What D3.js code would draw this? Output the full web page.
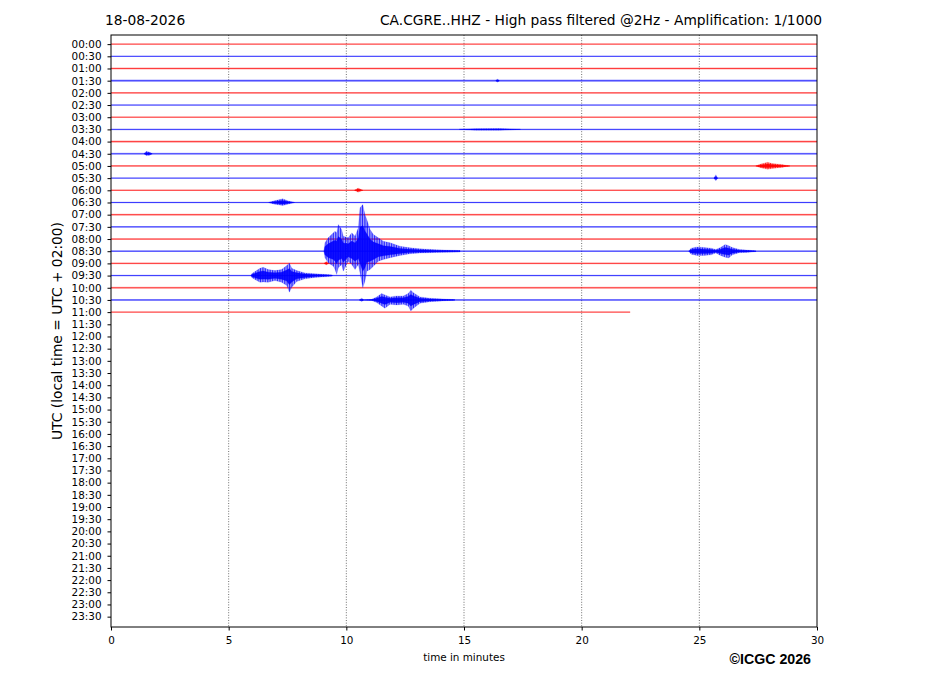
<!DOCTYPE html>
<html>
<head>
<meta charset="utf-8">
<script src="https://cdn.jsdelivr.net/npm/d3@7"></script>
<style>
  body { margin: 0; background: #fff; }
  svg { display: block; font-family: "DejaVu Sans", sans-serif; }
</style>
</head>
<body>
<div id="chart"></div>
<script>
const rowLabels = [
  "00:00", "00:30", "01:00", "01:30", "02:00", "02:30", "03:00", "03:30",
  "04:00", "04:30", "05:00", "05:30", "06:00", "06:30", "07:00", "07:30",
  "08:00", "08:30", "09:00", "09:30", "10:00", "10:30", "11:00", "11:30",
  "12:00", "12:30", "13:00", "13:30", "14:00", "14:30", "15:00", "15:30",
  "16:00", "16:30", "17:00", "17:30", "18:00", "18:30", "19:00", "19:30",
  "20:00", "20:30", "21:00", "21:30", "22:00", "22:30", "23:00", "23:30"
];
const minuteTicks = [0, 5, 10, 15, 20, 25, 30];
const traceColors = ["#ff0000", "#0000ff"];

// background noise level of each recorded half hour (in trace spacings)
const noiseLevel = [
  0.05, 0.05, 0.09, 0.10, 0.07, 0.05, 0.05, 0.06,
  0.09, 0.08, 0.07, 0.06, 0.06, 0.07, 0.08, 0.07,
  0.07, 0.07, 0.08, 0.06, 0.08, 0.08, 0.06
];
// end of data (minutes) for each recorded row
const traceEnd = [
  30, 30, 30, 30, 30, 30, 30, 30, 30, 30, 30, 30,
  30, 30, 30, 30, 30, 30, 30, 30, 30, 30, 22.06
];

// envelopes: [minute, amplitude up, amplitude down]
const quake1 = [
  [9.05, 0, 0], [9.09, 0.69, 0.54], [9.23, 1.10, 0.95], [9.45, 1.51, 1.23],
  [9.52, 1.64, 1.50], [9.59, 1.50, 1.91], [9.66, 2.19, 1.36], [9.80, 1.78, 1.09],
  [9.87, 1.23, 1.64], [10.08, 1.10, 0.82], [10.23, 1.51, 1.09], [10.37, 1.23, 1.50],
  [10.51, 1.92, 1.09], [10.58, 3.56, 1.77], [10.70, 3.83, 3.00], [10.79, 3.01, 2.46],
  [10.87, 2.60, 1.64], [11.01, 1.78, 1.50], [11.15, 1.37, 1.23], [11.36, 1.10, 0.82],
  [11.57, 0.82, 0.68], [11.86, 0.69, 0.54], [12.28, 0.41, 0.35], [12.71, 0.28, 0.21],
  [13.13, 0.20, 0.15], [13.85, 0.12, 0.10], [14.83, 0.06, 0.06]
];
const quake2 = [
  [5.95, 0, 0], [5.98, 0.15, 0.15], [6.12, 0.33, 0.33], [6.33, 0.60, 0.55],
  [6.47, 0.68, 0.52], [6.68, 0.49, 0.55], [6.97, 0.41, 0.41], [7.25, 0.49, 0.55],
  [7.47, 0.82, 0.82], [7.58, 1.04, 1.37], [7.68, 0.60, 0.96], [7.89, 0.41, 0.49],
  [8.24, 0.22, 0.27], [8.67, 0.15, 0.15], [9.22, 0.08, 0.08], [9.4, 0.04, 0.04]
];
const quake3 = [
  [10.55, 0, 0], [10.65, 0.14, 0.12], [10.75, 0, 0], [11.08, 0.05, 0.05],
  [11.29, 0.25, 0.22], [11.50, 0.52, 0.49], [11.64, 0.41, 0.68], [11.86, 0.25, 0.36],
  [12.14, 0.33, 0.41], [12.42, 0.33, 0.36], [12.63, 0.52, 0.49], [12.74, 0.80, 0.90],
  [12.85, 0.60, 0.68], [13.13, 0.25, 0.27], [13.56, 0.14, 0.14], [14.27, 0.06, 0.06],
  [14.6, 0.03, 0.03]
];
const quake4 = [
  [24.55, 0, 0], [24.65, 0.25, 0.25], [24.9, 0.35, 0.35], [25.2, 0.3, 0.35],
  [25.5, 0.25, 0.3], [25.7, 0.15, 0.15], [25.9, 0.3, 0.35], [26.1, 0.55, 0.5],
  [26.25, 0.45, 0.55], [26.4, 0.3, 0.3], [26.7, 0.15, 0.12], [27.0, 0.1, 0.1],
  [27.4, 0.03, 0.03]
];
const blip0500 = [[27.4, 0, 0], [27.6, 0.15, 0.15], [27.9, 0.3, 0.28], [28.1, 0.2, 0.2], [28.5, 0.12, 0.12], [28.85, 0, 0]];
const blip0630 = [[6.7, 0, 0], [6.9, 0.12, 0.12], [7.3, 0.3, 0.25], [7.5, 0.15, 0.15], [7.8, 0, 0]];
const blip0430 = [[1.4, 0, 0], [1.5, 0.2, 0.15], [1.65, 0.12, 0.12], [1.75, 0, 0]];
const blip0530 = [[25.62, 0, 0], [25.7, 0.28, 0.22], [25.78, 0, 0]];
const blip0600 = [[10.35, 0, 0], [10.5, 0.18, 0.15], [10.7, 0, 0]];
const blip0130 = [[16.35, 0, 0], [16.42, 0.14, 0.12], [16.5, 0, 0]];
const blip0330 = [[14.8, 0, 0], [15.5, 0.06, 0.06], [16.5, 0.07, 0.07], [17.4, 0, 0]];
const blip0900 = [[9.05, 0, 0], [9.15, 0.15, 0.12], [9.25, 0, 0]];

const events = [
  {row: 17, env: quake1}, {row: 19, env: quake2}, {row: 21, env: quake3},
  {row: 17, env: quake4}, {row: 10, env: blip0500}, {row: 13, env: blip0630},
  {row: 9, env: blip0430}, {row: 11, env: blip0530}, {row: 12, env: blip0600},
  {row: 3, env: blip0130}, {row: 7, env: blip0330}, {row: 18, env: blip0900}
];

const W = 927, H = 696;
const svg = d3.select("#chart").append("svg").attr("width", W).attr("height", H);

const x = d3.scaleLinear().domain([0, 30]).range([111, 817]);
const y = d3.scaleLinear().domain([-0.75, 47.85]).range([35, 627]);
const amp = (a) => y(a) - y(0);

const defs = svg.append("defs");
defs.append("clipPath").attr("id", "plot")
  .append("rect").attr("x", 111).attr("y", 35).attr("width", 706).attr("height", 592);
// vertical streaks to mimic the dense wiggles of the trace
traceColors.forEach((c, i) => {
  const p = defs.append("pattern").attr("id", "wiggle" + i)
    .attr("patternUnits", "userSpaceOnUse").attr("width", 1.7).attr("height", 20);
  p.append("rect").attr("width", 1.7).attr("height", 20).attr("fill", c).attr("fill-opacity", 0.35);
  p.append("rect").attr("width", 0.9).attr("height", 20).attr("fill", c);
});

// vertical grid
svg.append("g").selectAll("line")
  .data(minuteTicks.slice(1, -1))
  .enter().append("line")
  .attr("x1", (d) => x(d)).attr("x2", (d) => x(d))
  .attr("y1", 35).attr("y2", 627)
  .attr("stroke", "#333").attr("stroke-width", 0.7)
  .attr("stroke-dasharray", "1,1.6");

const traces = svg.append("g").attr("clip-path", "url(#plot)");

noiseLevel.forEach((n, i) => {
  const c = traceColors[i % 2];
  traces.append("line")
    .attr("x1", x(0)).attr("x2", x(traceEnd[i]))
    .attr("y1", y(i)).attr("y2", y(i))
    .attr("stroke", c).attr("stroke-opacity", 0.3)
    .attr("stroke-width", 2 * amp(n));
  traces.append("line")
    .attr("x1", x(0)).attr("x2", x(traceEnd[i]))
    .attr("y1", y(i)).attr("y2", y(i))
    .attr("stroke", c).attr("stroke-opacity", 0.75)
    .attr("stroke-width", 0.9);
});

// outer envelope (streaked spikes) and dense core
const layers = [{k: 1, core: false}, {k: 0.55, core: true}];
events.forEach((ev) => {
  const ci = ev.row % 2;
  const c = traceColors[ci];
  layers.forEach((l) => {
    const area = d3.area()
      .x((d) => x(d[0]))
      .y0((d) => y(ev.row) + amp(d[2] * l.k))
      .y1((d) => y(ev.row) - amp(d[1] * l.k));
    traces.append("path")
      .datum(ev.env)
      .attr("d", area)
      .attr("fill", l.core ? c : `url(#wiggle${ci})`)
      .attr("fill-opacity", l.core ? 0.9 : 0.85)
      .attr("stroke", c).attr("stroke-width", 0.4)
      .attr("stroke-opacity", l.core ? 0.7 : 0.35);
  });
});

// frame
svg.append("rect").attr("x", 111).attr("y", 35).attr("width", 706).attr("height", 592)
  .attr("fill", "none").attr("stroke", "#000").attr("stroke-width", 1);

const yAxis = svg.append("g").attr("transform", "translate(111,0)")
  .call(d3.axisLeft(y).tickValues(d3.range(rowLabels.length))
    .tickFormat((i) => rowLabels[i]).tickSize(3.5).tickPadding(6));
const xAxis = svg.append("g").attr("transform", "translate(0,627)")
  .call(d3.axisBottom(x).tickValues(minuteTicks).tickFormat(d3.format("d"))
    .tickSize(3.5).tickPadding(6));
[yAxis, xAxis].forEach((g) => {
  g.select(".domain").remove();
  g.selectAll("text").attr("font-size", 10.4).attr("fill", "#000")
    .attr("font-family", "DejaVu Sans");
  g.selectAll("line").attr("stroke", "#000");
});

svg.append("text").attr("x", 464).attr("y", 661).attr("text-anchor", "middle")
  .attr("font-size", 10.4).text("time in minutes");

svg.append("text").attr("transform", "translate(62,331) rotate(-90)")
  .attr("text-anchor", "middle").attr("font-size", 13.8)
  .text("UTC (local time = UTC + 02:00)");

svg.append("text").attr("x", 105).attr("y", 25).attr("font-size", 13.8)
  .text("18-08-2026");
svg.append("text").attr("x", 822).attr("y", 25).attr("text-anchor", "end")
  .attr("font-size", 13.8)
  .text("CA.CGRE..HHZ - High pass filtered @2Hz - Amplification: 1/1000");

svg.append("text").attr("x", 811).attr("y", 664).attr("text-anchor", "end")
  .attr("font-family", "Liberation Sans, Arial, sans-serif").attr("font-weight", "bold")
  .attr("font-size", 14.2).text("©ICGC 2026");
</script>
</body>
</html>
